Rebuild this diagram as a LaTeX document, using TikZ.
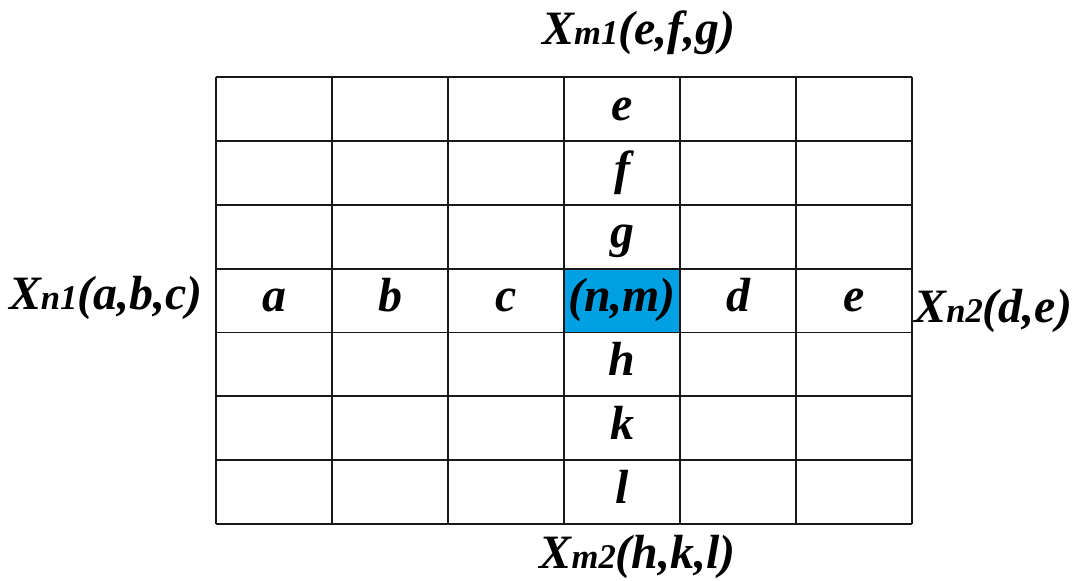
\documentclass[tikz,border=0pt]{standalone}
\usepackage{fontspec}
\setmainfont{Liberation Serif}
\usetikzlibrary{positioning}
\definecolor{centreblue}{RGB}{0,160,226}
\newcommand{\subidx}[1]{{\fontsize{17}{20}\selectfont #1}}

\begin{document}
\begin{tikzpicture}[
    entry/.style={anchor=base, inner sep=0pt, font=\fontsize{23.5}{28}\selectfont\bfseries\itshape},
    gridline/.style={line width=0.9pt, black!90}
]
        % ---- page frame ----
        \useasboundingbox (-3.724,-0.983) rectangle (14.828,9.034);

        % ---- highlighted centre cell ----
        \fill[centreblue] (6,3.3) rectangle (8,4.4);

        % ---- grid ----
        \foreach \i in {0,...,6}
            \draw[gridline] (2*\i,0) -- (2*\i,7.7);
        \foreach \j in {0,...,7}
            \draw[gridline] (0,1.1*\j) -- (12,1.1*\j);

        % ---- row n ----
        \node[entry] (a)  at (1,3.66) {a};
        \node[entry] (b)  at (3,3.66) {b};
        \node[entry] (c)  at (5,3.66) {c};
        \node[entry] (nm) at (7,3.66) {(n,m)};
        \node[entry] (d)  at (9,3.66) {d};
        \node[entry] (re) at (11,3.66) {e};

        % ---- column m ----
        \node[entry] (ce) at (7,6.96) {e};
        \node[entry] (f)  at (7,5.86) {f};
        \node[entry] (g)  at (7,4.76) {g};
        \node[entry] (h)  at (7,2.56) {h};
        \node[entry] (k)  at (7,1.46) {k};
        \node[entry] (l)  at (7,0.36) {l};

        % ---- neighbourhood labels ----
        \node[entry] (xm1) at (7.29,8.26)  {X\subidx{m1}(e,f,g)};
        \node[entry] (xm2) at (7.27,-0.76) {X\subidx{m2}(h,k,l)};
        \node[entry] (xn1) at (-1.90,3.69) {X\subidx{n1}(a,b,c)};
        \node[entry] (xn2) at (13.40,3.48) {X\subidx{n2}(d,e)};
\end{tikzpicture}
\end{document}
